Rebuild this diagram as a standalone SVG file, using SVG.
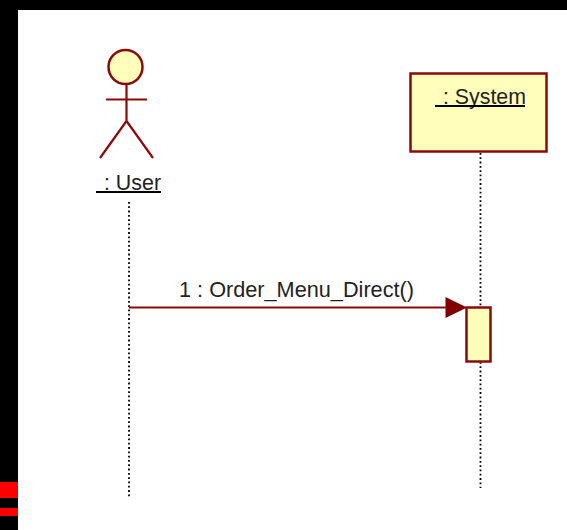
<svg xmlns="http://www.w3.org/2000/svg" width="567" height="530" viewBox="0 0 567 530">
<style>
.s{stroke:#8b0a0a;stroke-width:2.200;fill:none}
.f{fill:#ffffbb;stroke:#8b0a0a;stroke-width:2.500}
.l{stroke:#000;stroke-width:1.800;stroke-dasharray:1.800 2.500;fill:none}
.t{font-family:"Liberation Sans",sans-serif;font-size:22.500px;fill:#222}
.u{stroke:#000;stroke-width:2}
</style>
<rect width="567" height="530" fill="#fff"/>
<g id="frame">
<rect x="0" y="0" width="567" height="10" fill="#000"/>
<rect x="0" y="0" width="18" height="530" fill="#000"/>
<rect x="0" y="482" width="18" height="16" fill="#f00"/>
<rect x="0" y="508" width="18" height="8" fill="#f00"/>
</g>
<g id="connectors">
<path class="l" d="M129 202V497"/>
<path class="l" d="M480.500 153V307M480.500 362V488"/>
<path class="s" d="M129 307.500H446"/>
<path d="M445.500 297L467 307.500L445.500 318Z" fill="#800000"/>
<text class="t" x="179" y="297" textLength="235" lengthAdjust="spacingAndGlyphs">1 : Order_Menu_Direct()</text>
</g>
<g id="user">
<circle class="f" cx="125.500" cy="67" r="17"/>
<path class="s" d="M126.500 84V121M106 99.500H147M126.500 121L100 158M126.500 121L153 158"/>
<text class="t" x="104" y="190" textLength="57" lengthAdjust="spacingAndGlyphs">: User</text>
<path class="u" d="M96 192H161"/>
</g>
<g id="system">
<rect class="f" x="410.500" y="73.500" width="136" height="78"/>
<text class="t" x="443" y="104" textLength="83" lengthAdjust="spacingAndGlyphs">: System</text>
<path class="u" d="M435 106H525"/>
</g>
<g id="activation">
<rect class="f" x="466.500" y="307.500" width="24" height="54"/>
</g>
</svg>
